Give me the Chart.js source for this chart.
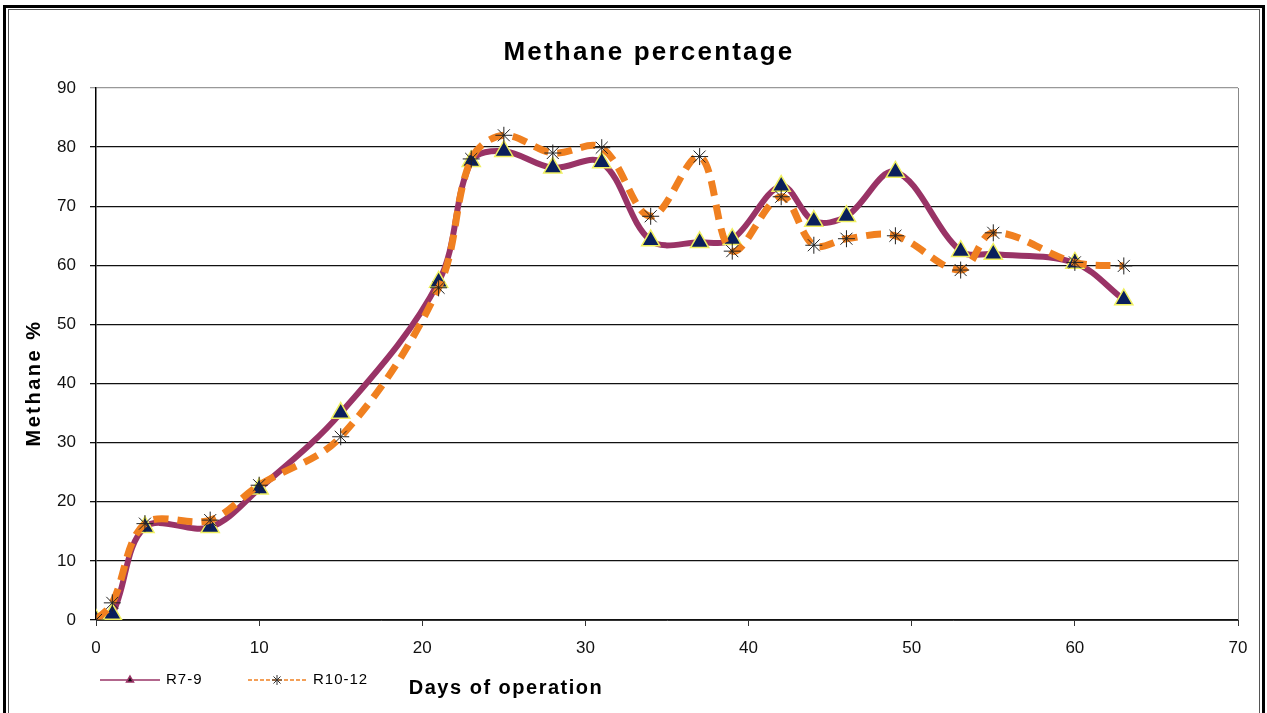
<!DOCTYPE html>
<html>
<head>
<meta charset="utf-8">
<title>Methane percentage</title>
<script src="https://cdn.jsdelivr.net/npm/chart.js@4/dist/chart.umd.min.js"></script>
<style>
    html, body { margin: 0; padding: 0; background: #fff; }
    #wrap { width: 1267px; height: 713px; }
</style>
</head>
<body>
<div id="wrap"><canvas id="methaneChart" width="1267" height="713"></canvas></div>
<script>
// days of operation (x values)
const days = [0, 1, 3, 7, 10, 15, 21, 23, 25, 28, 31, 34, 37, 39, 42, 44, 46, 49, 53, 55, 60, 63];

// methane %
const r7_9 = [0, 1, 15.7, 15.7, 22.2, 35, 57.2, 77.6, 79.3, 76.5, 77.4, 64.2, 63.9, 64.4, 73.4, 67.5, 68.3, 75.8, 62.4, 61.9, 60.4, 54.2];
const r10_12 = [0, 2.9, 16.3, 16.9, 22.8, 31, 56.2, 78, 82, 79, 79.9, 68.3, 78.4, 62.4, 71.6, 63.4, 64.5, 65, 59.2, 65.5, 60.5, 59.9];

const xTicks = [0, 10, 20, 30, 40, 50, 60, 70];
const yTicks = [0, 10, 20, 30, 40, 50, 60, 70, 80, 90];

const purple = "#993366";
const orange = "#f08020";

function toPoints(values) {
    return days.map((d, i) => ({ x: d, y: values[i] }));
}

// title, axis titles, legend and the frame are drawn by hand
const decorPlugin = {
    id: "decor",
    afterDraw(chart) {
        const ctx = chart.ctx;
        const area = chart.chartArea;
        ctx.save();

        // plot area right edge
        ctx.strokeStyle = "#888";
        ctx.lineWidth = 1;
        ctx.beginPath();
        ctx.moveTo(area.right + 0.5, area.top);
        ctx.lineTo(area.right + 0.5, area.bottom);
        ctx.stroke();

        ctx.fillStyle = "#000";
        ctx.textBaseline = "middle";
        ctx.textAlign = "center";

        ctx.font = "bold 26px 'Liberation Sans', Arial, sans-serif";
        ctx.letterSpacing = "2.2px";
        ctx.fillText("Methane percentage", 649, 53);

        ctx.font = "bold 20px 'Liberation Sans', Arial, sans-serif";
        ctx.letterSpacing = "1.5px";
        ctx.fillText("Days of operation", 506, 688);

        ctx.save();
        ctx.translate(34, 383);
        ctx.rotate(-Math.PI / 2);
        ctx.letterSpacing = "2.5px";
        ctx.fillText("Methane %", 0, 0);
        ctx.restore();

        // legend
        ctx.letterSpacing = "1px";
        ctx.textAlign = "left";
        ctx.font = "15px 'Liberation Sans', Arial, sans-serif";
        ctx.lineWidth = 1.5;
        ctx.strokeStyle = purple;
        ctx.beginPath();
        ctx.moveTo(100, 680);
        ctx.lineTo(160, 680);
        ctx.stroke();
        ctx.fillStyle = "#111";
        Chart.helpers.drawPoint(ctx, { pointStyle: "triangle", radius: 4, borderWidth: 1 }, 130, 680);
        ctx.fillStyle = "#000";
        ctx.fillText("R7-9", 166, 680);

        ctx.strokeStyle = orange;
        ctx.setLineDash([4, 2]);
        ctx.beginPath();
        ctx.moveTo(248, 680);
        ctx.lineTo(308, 680);
        ctx.stroke();
        ctx.setLineDash([]);
        ctx.strokeStyle = "#333";
        ctx.lineWidth = 1;
        Chart.helpers.drawPoint(ctx, { pointStyle: "star", radius: 5, borderWidth: 1 }, 277, 680);
        ctx.fillText("R10-12", 313, 680);

        // outer frame
        ctx.strokeStyle = "#000";
        ctx.lineWidth = 3;
        ctx.strokeRect(4.5, 6.5, 1259, 720);
        ctx.lineWidth = 1;
        ctx.strokeStyle = "#555";
        ctx.strokeRect(8.5, 9.5, 1251, 720);
        ctx.restore();
    }
};

const ctx = document.getElementById("methaneChart").getContext("2d");

new Chart(ctx, {
    type: "line",
    data: {
        datasets: [
            {
                label: "R7-9",
                data: toPoints(r7_9),
                borderColor: purple,
                borderWidth: 6,
                tension: 0.35,
                pointStyle: "triangle",
                pointRadius: 10.5,
                pointBackgroundColor: "#0a1f5c",
                pointBorderColor: "#f0f060",
                pointBorderWidth: 1.5,
                order: 2
            },
            {
                label: "R10-12",
                data: toPoints(r10_12),
                borderColor: orange,
                borderWidth: 7,
                borderDash: [15, 9],
                tension: 0.35,
                pointStyle: "star",
                pointRadius: 8.5,
                pointBackgroundColor: "#222",
                pointBorderColor: "#222",
                pointBorderWidth: 1,
                order: 1
            }
        ]
    },
    options: {
        responsive: false,
        animation: false,
        devicePixelRatio: 1,
        layout: {
            padding: { left: 0, right: 29, top: 88, bottom: 0 }
        },
        plugins: {
            legend: { display: false },
            title: { display: false },
            tooltip: { enabled: false }
        },
        scales: {
            x: {
                type: "linear",
                min: 0,
                max: 70,
                afterFit(scale) { scale.height = 93; },
                afterBuildTicks(scale) { scale.ticks = xTicks.map(v => ({ value: v })); },
                ticks: {
                    color: "#111",
                    padding: 12,
                    font: { family: "'Liberation Sans', Arial, sans-serif", size: 17 }
                },
                grid: {
                    drawOnChartArea: false,
                    drawTicks: true,
                    tickLength: 6,
                    color: "#333"
                },
                border: { display: true, color: "#333", width: 1 }
            },
            y: {
                min: 0,
                max: 90,
                afterFit(scale) { scale.width = 96; },
                afterBuildTicks(scale) { scale.ticks = yTicks.map(v => ({ value: v })); },
                ticks: {
                    color: "#111",
                    padding: 14,
                    font: { family: "'Liberation Sans', Arial, sans-serif", size: 17 }
                },
                grid: {
                    color: c => (c.tick && c.tick.value === 90 ? "#999" : "#111"),
                    lineWidth: 1.3,
                    tickLength: 6
                },
                border: { display: true, color: "#000", width: 1.5 }
            }
        }
    },
    plugins: [decorPlugin]
});
</script>
</body>
</html>
